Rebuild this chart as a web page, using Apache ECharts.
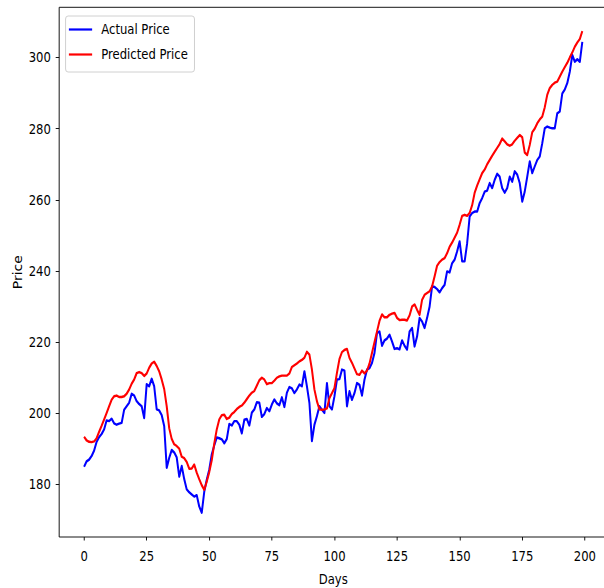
<!DOCTYPE html>
<html>
<head>
<meta charset="utf-8">
<script src="https://cdn.jsdelivr.net/npm/echarts@6/dist/echarts.min.js"></script>
<style>
  html, body { margin: 0; padding: 0; background: #fff; overflow: hidden; }
  #wrap { width: 604px; height: 588px; overflow: hidden; }
  /* chart is laid out wide, then narrowed to the final frame */
  #chart { width: 728px; height: 588px; transform: scaleX(0.83); transform-origin: 0 0; }
</style>
</head>
<body>
<div id="wrap"><div id="chart"></div></div>
<script>
// Daily closing price vs. model prediction
const seriesNames = ['Actual Price', 'Predicted Price'];

const actualPrice = [
  185.0, 186.5, 187.0, 188.0, 189.5, 192.0, 193.3, 194.2, 195.5, 198.0,
  197.8, 198.5, 197.2, 196.8, 197.1, 197.3, 201.0, 202.0, 203.0, 205.5,
  205.0, 203.4, 202.6, 202.0, 198.7, 208.2, 207.6, 209.7, 207.6, 201.1,
  200.8, 199.5, 196.4, 184.7, 187.5, 189.7, 189.0, 187.6, 182.2, 185.2,
  181.5, 178.6, 177.8, 177.2, 176.6, 177.0, 173.8, 172.1, 178.0, 181.4,
  184.2, 188.5, 191.0, 193.2, 193.0, 192.7, 191.6, 192.8, 197.0, 196.6,
  197.8, 197.8, 196.8, 194.4, 198.2, 198.4, 196.6, 200.2, 201.1, 203.1,
  203.0, 199.0, 199.8, 201.5, 200.6, 202.5, 203.9, 202.8, 202.3, 204.5,
  201.8, 205.8, 207.4, 207.0, 205.7, 206.7, 208.1, 207.6, 211.8, 207.6,
  202.9, 192.2, 196.8, 199.2, 202.0, 201.0, 200.1, 208.5, 202.0, 201.1,
  204.8, 209.5, 209.6, 212.3, 212.0, 202.0, 206.2, 203.8, 205.7, 208.5,
  208.0, 205.0, 209.5, 212.3, 212.7, 214.2, 217.0, 222.6, 223.0, 219.0,
  220.5, 221.0, 222.1, 220.2, 218.1, 218.3, 218.0, 220.5, 219.0, 217.9,
  223.0, 224.0, 218.8, 221.6, 226.8, 225.8, 224.0, 226.8, 230.0, 235.7,
  235.5, 234.9, 234.0, 235.2, 236.1, 239.9, 239.6, 242.2, 243.2, 245.5,
  248.3, 242.7, 242.7, 247.8, 255.3, 256.3, 256.7, 256.7, 259.1, 260.5,
  262.3, 262.6, 264.7, 263.3, 265.6, 267.3, 266.5, 263.3, 262.0, 263.3,
  266.5, 265.1, 268.0, 267.1, 264.7, 259.5, 262.3, 266.5, 270.8, 267.5,
  269.4, 271.2, 272.2, 275.9, 280.1, 280.6, 280.3, 280.1, 280.1, 284.3,
  284.8, 289.9, 291.0, 292.8, 296.0, 300.7, 298.8, 299.5, 298.8, 304.4
];

const predictedPrice = [
  193.4, 192.4, 192.0, 191.9, 192.1, 193.0, 194.8, 196.5, 198.3, 200.1,
  202.0, 203.8, 204.8, 205.0, 204.6, 204.6, 204.8, 205.5, 206.7, 208.3,
  209.5, 211.3, 211.6, 211.3, 210.5, 211.2, 212.8, 214.0, 214.5, 213.3,
  211.8, 209.5, 206.8, 202.0, 195.8, 192.8, 191.3, 190.8, 190.1, 187.8,
  187.4, 186.3, 184.4, 184.5, 185.6, 183.3, 181.5, 179.8, 178.5, 180.8,
  183.5, 186.8, 191.5, 195.5, 198.3, 199.5, 199.6, 198.4, 198.8, 199.8,
  200.4, 201.2, 201.8, 202.2, 203.0, 204.0, 205.0, 205.8, 206.3, 207.8,
  209.3, 210.0, 209.5, 208.2, 208.5, 208.5, 209.2, 210.0, 210.4, 210.6,
  210.6, 210.6, 211.2, 213.0, 213.5, 214.0, 214.6, 215.0, 215.6, 217.3,
  216.5, 212.3, 206.7, 203.4, 201.1, 201.0, 201.1, 201.4, 204.3, 205.7,
  207.1, 211.4, 215.3, 217.2, 217.8, 218.1, 215.6, 214.2, 212.6, 211.0,
  210.8, 212.0, 211.2, 212.0, 214.0, 217.0, 220.0, 223.0, 226.0, 227.8,
  227.0, 227.0, 227.7, 228.0, 228.2, 226.8, 226.2, 226.3, 226.3, 226.1,
  227.5, 230.0, 230.6, 229.1, 227.7, 231.9, 233.3, 233.8, 234.3, 235.7,
  238.5, 241.5, 242.5, 243.2, 243.6, 245.0, 246.8, 248.0, 249.4, 250.8,
  253.0, 255.5, 255.8, 255.5, 256.3, 258.5, 262.0, 264.0, 265.8, 267.5,
  268.5, 270.0, 271.2, 272.4, 273.5, 274.6, 275.7, 277.2, 276.4, 275.6,
  275.2, 275.6, 276.6, 277.4, 278.2, 277.6, 273.3, 272.6, 275.4, 279.0,
  280.0, 281.5, 282.6, 283.4, 286.0, 289.5, 291.4, 292.3, 292.9, 293.2,
  294.6, 296.0, 297.3, 298.5, 300.0, 301.4, 303.0, 304.2, 305.2, 307.4
];

const dayTicks = [0, 25, 50, 75, 100, 125, 150, 175, 200];
const priceTicks = [180, 200, 220, 240, 260, 280, 300];

const FONT = 'DejaVu Sans, Verdana, sans-serif';

const toPoints = arr => arr.map((v, i) => [i, v]);

const chart = echarts.init(document.getElementById('chart'), null, { renderer: 'svg' });

chart.setOption({
  animation: false,
  backgroundColor: '#ffffff',
  textStyle: { fontFamily: FONT },
  grid: {
    left: 71.3, right: -3.6, top: 7.3, bottom: 51,
    outerBoundsMode: 'none',
    containLabel: false,
    show: true, borderColor: '#000', borderWidth: 1, backgroundColor: 'transparent'
  },
  legend: {
    orient: 'vertical',
    left: 79, top: 16,
    padding: [3.5, 8, 7.5, 4],
    itemWidth: 28, itemHeight: 2.2, itemGap: 5,
    icon: 'rect',
    backgroundColor: 'rgba(255,255,255,0.8)',
    borderColor: '#cccccc', borderWidth: 1, borderRadius: 3,
    selectedMode: false,
    textStyle: { fontFamily: FONT, fontSize: 14, color: '#000', lineHeight: 20, padding: [0, 0, 0, 6] },
    data: seriesNames
  },
  xAxis: {
    type: 'value',
    min: -9.95, max: 208.95,
    name: 'Days',
    nameLocation: 'middle',
    nameGap: 35,
    nameMoveOverlap: false,
    nameTextStyle: { fontFamily: FONT, fontSize: 14, color: '#000' },
    axisLine: { show: false, onZero: false },
    axisTick: { show: true, length: 3.5, customValues: dayTicks, lineStyle: { color: '#000', width: 1 } },
    axisLabel: { customValues: dayTicks, margin: 12, fontFamily: FONT, fontSize: 14, color: '#000' },
    splitLine: { show: false }
  },
  yAxis: {
    type: 'value',
    min: 165.25, max: 314.1,
    name: 'Price',
    nameLocation: 'middle',
    nameGap: 43,
    nameMoveOverlap: false,
    nameTextStyle: { fontFamily: FONT, fontSize: 14, color: '#000' },
    axisLine: { show: false, onZero: false },
    axisTick: { show: true, length: 4.2, customValues: priceTicks, lineStyle: { color: '#000', width: 1 } },
    axisLabel: { customValues: priceTicks, margin: 10, fontFamily: FONT, fontSize: 14, color: '#000' },
    splitLine: { show: false }
  },
  series: [
    {
      name: seriesNames[0],
      type: 'line',
      data: toPoints(actualPrice),
      showSymbol: false, symbol: 'none',
      lineStyle: { color: '#0000ff', width: 2.4, join: 'round' },
      itemStyle: { color: '#0000ff' },
      z: 2
    },
    {
      name: seriesNames[1],
      type: 'line',
      data: toPoints(predictedPrice),
      showSymbol: false, symbol: 'none',
      lineStyle: { color: '#ff0000', width: 2.4, join: 'round' },
      itemStyle: { color: '#ff0000' },
      z: 3
    }
  ]
});
</script>
</body>
</html>
